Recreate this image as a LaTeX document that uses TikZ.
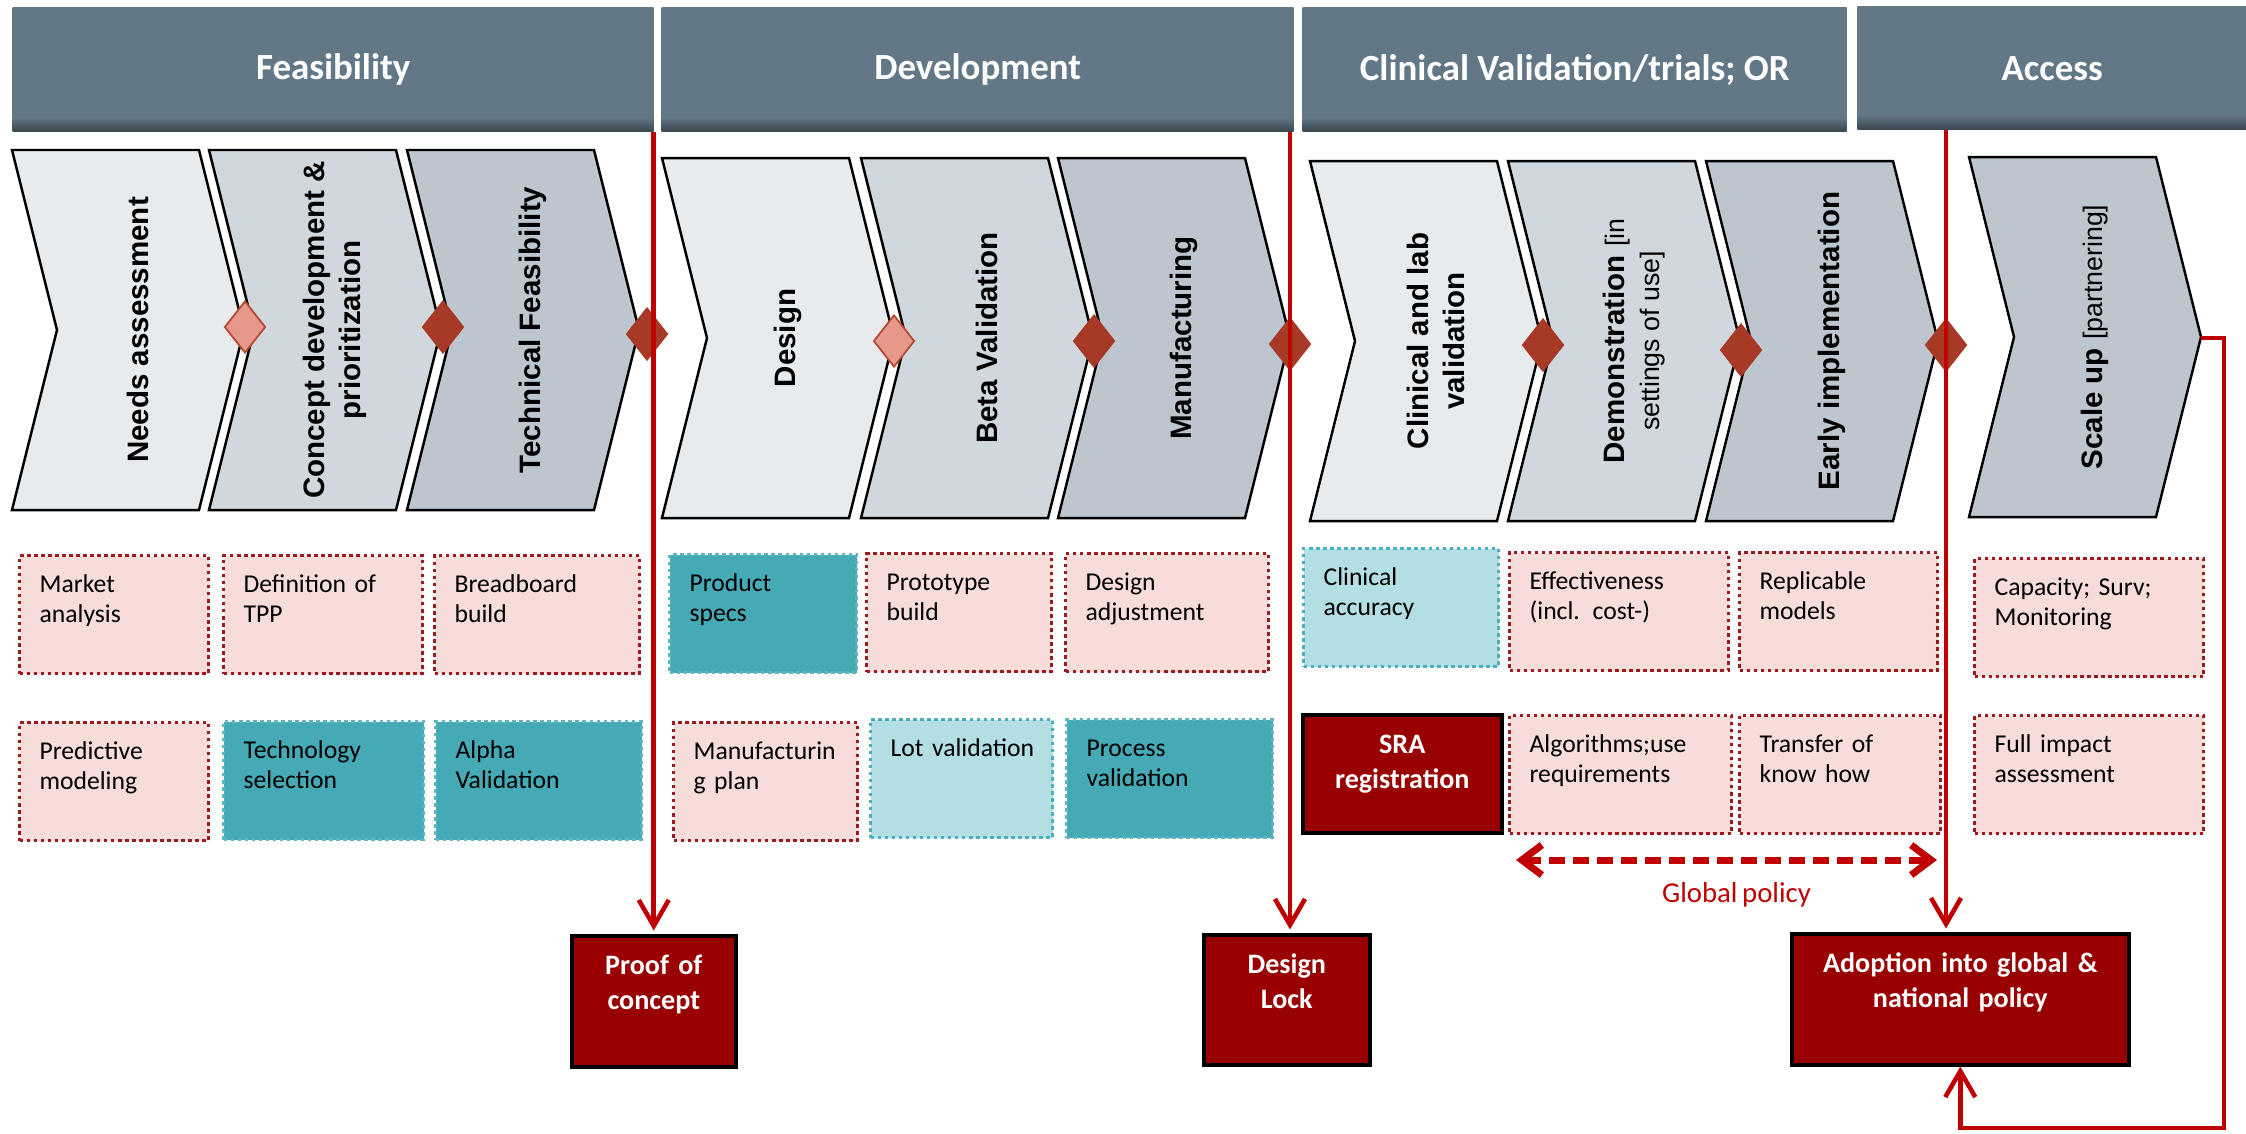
\documentclass[tikz,border=0pt]{standalone}
\usepackage{fontspec}
\setmainfont{Carlito}
\newfontfamily\stagefont{Liberation Sans}
\newfontfamily\cellfont[WordSpace=0.7]{Carlito}
\usepackage{xcolor}
\usepackage{tikz}
\usetikzlibrary{shapes.geometric,arrows.meta,positioning}

\definecolor{hdrbg}{HTML}{637886}
\definecolor{hdrdark}{HTML}{39454E}
\definecolor{chevA}{HTML}{E7EBEE}
\definecolor{chevB}{HTML}{D0D8DE}
\definecolor{chevC}{HTML}{BDC6CE}
\definecolor{pinkfill}{HTML}{F6DDD9}
\definecolor{pinkline}{HTML}{9B1C20}
\definecolor{tealfill}{HTML}{45AAB6}
\definecolor{tealline}{HTML}{5BB6C1}
\definecolor{ltealfill}{HTML}{B3DEE3}
\definecolor{ltealline}{HTML}{4BB0BD}
\definecolor{gatered}{HTML}{990000}
\definecolor{linered}{HTML}{C00000}
\definecolor{msLight}{HTML}{E6988A}
\definecolor{msLightEdge}{HTML}{B5482F}
\definecolor{msDark}{HTML}{A63A26}

% darker band along the bottom of the phase bars
\pgfdeclareverticalshading{hdrfade}{100bp}{color(0bp)=(hdrdark); color(25bp)=(hdrdark); color(31bp)=(hdrbg); color(100bp)=(hdrbg)}

\newcommand{\bracketed}[1]{{\mdseries\fontsize{7.6}{9.2}\selectfont #1}}

\begin{document}
\begin{tikzpicture}[
    phase/.style={shade, shading=hdrfade, anchor=north west, inner sep=0, minimum height=1.24cm, text=white, font=\bfseries\fontsize{10.5}{12}\selectfont},
    chev/.style={draw=black, line width=0.7pt, line join=miter},
    stage/.style={rotate=90, align=center, inner sep=0, font=\stagefont\bfseries\fontsize{8.4}{10.2}\selectfont},
    milestone/.style={diamond, inner sep=0, minimum width=0.41cm, minimum height=0.52cm, fill=msDark, draw=msDark, line width=0.5pt},
    softstone/.style={milestone, fill=msLight, draw=msLightEdge},
    cell/.style={anchor=north west, line width=0.9pt, dash pattern=on 1pt off 1pt, align=left, inner xsep=0.2cm, inner ysep=0.17cm, text height=0.2cm, text depth=0.64cm, text width=#1-0.4cm, font=\cellfont\fontsize{7.3}{8.5}\selectfont, execute at begin node={\hyphenpenalty=10000\relax}},
    pinkcell/.style={cell=#1, fill=pinkfill, draw=pinkline},
    tealcell/.style={cell=#1, fill=tealfill, draw=tealline},
    ltealcell/.style={cell=#1, fill=ltealfill, draw=ltealline},
    gate/.style={anchor=north west, draw=black, line width=1pt, fill=gatered, text=white, align=center, inner xsep=0.1cm, inner ysep=0.19cm, text height=0.2cm, text width=#1-0.2cm, font=\cellfont\bfseries\fontsize{8}{10}\selectfont},
    redline/.style={draw=linered, line width=1.3pt},
    barb/.style={redline, -{Straight Barb[length=0.26cm, width=0.3cm]}},
    policy/.style={draw=linered, line width=2pt, dash pattern=on 0.16cm off 0.08cm, {Straight Barb[length=0.2cm, width=0.3cm]}-{Straight Barb[length=0.2cm, width=0.3cm]}}
]
\useasboundingbox (0,0) rectangle (22.46,-11.33);

% Phase headers
\node[phase, minimum width=6.41cm] (feas) at (0.12,-0.07) {Feasibility};
\node[phase, minimum width=6.32cm] (dev) at (6.61,-0.07) {Development};
\node[phase, minimum width=5.44cm] (clin) at (13.02,-0.07) {Clinical Validation/trials; OR};
\node[phase, minimum width=3.89cm, minimum height=1.23cm] (access) at (18.57,-0.06) {Access};

% Stage chevrons
\draw[chev, fill=chevA] (0.12,-1.50) -- ++(1.87,0) -- ++(0.45,-1.80) -- ++(-0.45,-1.80) -- ++(-1.87,0) -- ++(0.45,1.80) -- cycle;
\draw[chev, fill=chevB] (2.09,-1.50) -- ++(1.87,0) -- ++(0.45,-1.80) -- ++(-0.45,-1.80) -- ++(-1.87,0) -- ++(0.45,1.80) -- cycle;
\draw[chev, fill=chevC] (4.07,-1.50) -- ++(1.87,0) -- ++(0.45,-1.80) -- ++(-0.45,-1.80) -- ++(-1.87,0) -- ++(0.45,1.80) -- cycle;
\draw[chev, fill=chevA] (6.62,-1.58) -- ++(1.87,0) -- ++(0.45,-1.80) -- ++(-0.45,-1.80) -- ++(-1.87,0) -- ++(0.45,1.80) -- cycle;
\draw[chev, fill=chevB] (8.61,-1.58) -- ++(1.87,0) -- ++(0.45,-1.80) -- ++(-0.45,-1.80) -- ++(-1.87,0) -- ++(0.45,1.80) -- cycle;
\draw[chev, fill=chevC] (10.58,-1.58) -- ++(1.87,0) -- ++(0.45,-1.80) -- ++(-0.45,-1.80) -- ++(-1.87,0) -- ++(0.45,1.80) -- cycle;
\draw[chev, fill=chevA] (13.10,-1.61) -- ++(1.87,0) -- ++(0.45,-1.80) -- ++(-0.45,-1.80) -- ++(-1.87,0) -- ++(0.45,1.80) -- cycle;
\draw[chev, fill=chevB] (15.08,-1.61) -- ++(1.87,0) -- ++(0.45,-1.80) -- ++(-0.45,-1.80) -- ++(-1.87,0) -- ++(0.45,1.80) -- cycle;
\draw[chev, fill=chevC] (17.06,-1.61) -- ++(1.87,0) -- ++(0.45,-1.80) -- ++(-0.45,-1.80) -- ++(-1.87,0) -- ++(0.45,1.80) -- cycle;
\draw[chev, fill=chevC] (19.69,-1.57) -- ++(1.87,0) -- ++(0.45,-1.80) -- ++(-0.45,-1.80) -- ++(-1.87,0) -- ++(0.45,1.80) -- cycle;

\node[stage] (needs) at (1.38,-3.30) {Needs assessment};
\node[stage] (concept) at (3.35,-3.30) {Concept development \&\\prioritization};
\node[stage] (techfeas) at (5.33,-3.30) {Technical Feasibility};
\node[stage] (design) at (7.88,-3.38) {Design};
\node[stage] (beta) at (9.87,-3.38) {Beta Validation};
\node[stage] (manuf) at (11.84,-3.38) {Manufacturing};
\node[stage] (clinlab) at (14.36,-3.41) {Clinical and lab\\validation};
\node[stage] (demo) at (16.34,-3.41) {Demonstration \bracketed{[in}\\\bracketed{settings of use]}};
\node[stage] (early) at (18.32,-3.41) {Early implementation};
\node[stage] (scaleup) at (20.95,-3.37) {Scale up \bracketed{[partnering]}};

% Milestones
\node[softstone] (m1) at (2.45,-3.27) {};
\node[milestone] (m2) at (4.43,-3.27) {};
\node[milestone] (m3) at (6.47,-3.34) {};
\node[softstone] (m4) at (8.94,-3.41) {};
\node[milestone] (m5) at (10.94,-3.41) {};
\node[milestone] (m6) at (12.90,-3.44) {};
\node[milestone] (m7) at (15.43,-3.45) {};
\node[milestone] (m8) at (17.41,-3.50) {};
\node[milestone] (m9) at (19.46,-3.45) {};

% Activities, first row
\node[pinkcell=1.89cm] (market) at (0.18,-5.54) {Market\\analysis};
\node[pinkcell=1.99cm] (tpp) at (2.22,-5.54) {Definition of\\TPP};
\node[pinkcell=2.05cm] (bread) at (4.33,-5.54) {Breadboard\\build};
\node[tealcell=1.87cm] (prodspec) at (6.68,-5.53) {Product\\specs};
\node[pinkcell=1.85cm] (proto) at (8.65,-5.52) {Prototype\\build};
\node[pinkcell=2.03cm] (designadj) at (10.64,-5.52) {Design\\adjustment};
\node[ltealcell=1.95cm] (clinacc) at (13.02,-5.47) {Clinical\\accuracy};
\node[pinkcell=2.19cm] (effect) at (15.08,-5.51) {Effectiveness\\(incl. cost-)};
\node[pinkcell=1.98cm] (replic) at (17.38,-5.51) {Replicable\\models};
\node[pinkcell=2.29cm] (capacity) at (19.73,-5.57) {Capacity; Surv;\\Monitoring};

% Activities, second row
\node[pinkcell=1.89cm] (predict) at (0.18,-7.21) {Predictive\\modeling};
\node[tealcell=2.00cm] (techsel) at (2.22,-7.20) {Technology\\selection};
\node[tealcell=2.06cm] (alpha) at (4.34,-7.20) {Alpha\\Validation};
\node[pinkcell=1.84cm] (mfgplan) at (6.72,-7.21) {Manufacturin\\g plan};
\node[ltealcell=1.82cm] (lotval) at (8.69,-7.18) {Lot~validation};
\node[tealcell=2.06cm] (procval) at (10.65,-7.18) {Process\\validation};
\node[gate=1.99cm, text depth=0.60cm] (sra) at (13.01,-7.13) {SRA\\registration};
\node[pinkcell=2.22cm] (algo) at (15.08,-7.14) {Algorithms;use\\requirements};
\node[pinkcell=2.01cm] (transfer) at (17.38,-7.14) {Transfer of\\know how};
\node[pinkcell=2.29cm] (fullimp) at (19.73,-7.14) {Full impact\\assessment};

% Decision gates
\node[gate=1.64cm, text depth=0.73cm] (poc) at (5.70,-9.34) {Proof of\\concept};
\node[gate=1.66cm, text depth=0.72cm] (dlock) at (12.02,-9.33) {Design\\Lock};
\node[gate=3.37cm, text depth=0.73cm] (adopt) at (17.90,-9.32) {Adoption into global \&\\national policy};

% Gate lines
\draw[barb, shorten >=1pt] (feas.south -| poc.north) -- (poc.north);
\draw[barb, shorten >=1pt] (dev.south -| m6) -- (dlock.north -| m6);
\draw[barb, shorten >=1pt] (access.south -| m9) -- (adopt.north -| m9);

% Feedback from scale up
\coordinate (sutip) at (22.01,-3.38);
\coordinate (loopc) at (22.24,-11.28);
\draw[barb] (sutip) -| (loopc) -| (adopt.south);

% Global policy span
\coordinate (gpl) at (15.16,-8.60);
\coordinate (gpr) at (19.37,-8.60);
\draw[policy] (gpl) -- (gpr) node[midway, below=0.07cm, xshift=0.1cm, text=linered, font=\cellfont\fontsize{8.2}{10}\selectfont] (gp) {Global policy};

\end{tikzpicture}
\end{document}
